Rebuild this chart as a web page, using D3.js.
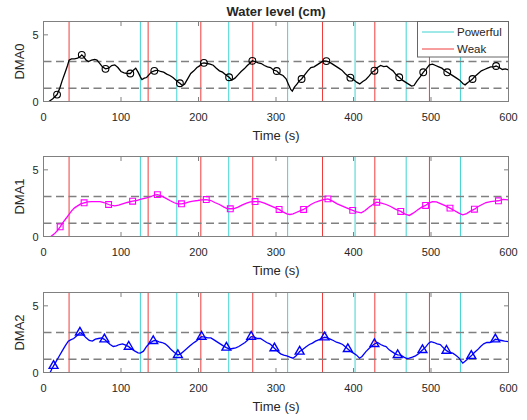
<!DOCTYPE html>
<html>
<head>
<meta charset="utf-8">
<script src="https://cdn.jsdelivr.net/npm/d3@7"></script>
<style>
body { margin: 0; background: #fff; }
svg { display: block; font-family: "Liberation Sans", Arial, Helvetica, sans-serif; }
</style>
</head>
<body>
<svg></svg>
<script>
const width = 527, height = 420;

// pump switching times (s)
const powerfulTimes = [0, 125, 172, 239, 315, 402, 468, 538];
const weakTimes = [33, 135, 203, 270, 360, 427.5, 498];
const thresholds = [1, 3];
const xTicks = [0, 100, 200, 300, 400, 500, 600];
const yTicks = [0, 5];
const panelNames = ['DMA0', 'DMA1', 'DMA2'];

// water level [time, level]
const dma0 = [[7,0],[12,0.2],[17.5,0.52],[21,1.0],[24,1.55],[28,2.2],[31,2.7],[33,3.1],[36,3.2],[40,3.2],[44,3.25],[47,3.35],[49.4,3.5],[52,3.35],[55,3.1],[58,3.0],[62,3.1],[66,3.15],[69,3.1],[72,2.9],[76,2.6],[80,2.45],[84,2.5],[88,2.7],[92,2.75],[96,2.55],[100,2.25],[104,2.15],[108,2.1],[112,2.1],[116,2.35],[119,2.5],[122,2.2],[125,1.85],[127,1.65],[130,1.75],[133,1.8],[136,2.0],[139,2.2],[143,2.3],[147,2.35],[151,2.25],[155,2.2],[159,2.05],[163,1.95],[167,1.8],[171,1.6],[174,1.45],[176,1.37],[179,1.2],[182,1.3],[186,1.7],[190,2.1],[194,2.3],[198,2.55],[201,2.65],[204,2.85],[207,2.9],[211,2.85],[215,2.8],[219,2.72],[223,2.5],[227,2.3],[231,2.2],[235,2.0],[239.5,1.82],[243,1.6],[247,1.75],[251,2.0],[255,2.25],[259,2.45],[263,2.7],[266,2.85],[269.5,3.05],[273,3.0],[277,2.9],[281,2.85],[285,2.7],[289,2.6],[293,2.55],[297,2.35],[301,2.29],[305,2.05],[309,1.95],[313,1.7],[316,1.3],[319,0.9],[321,0.78],[324,1.1],[327,1.3],[330,1.55],[333,1.69],[337,2.0],[341,2.3],[345,2.55],[349,2.6],[353,2.75],[357,2.9],[361,3.05],[365,3.03],[369,2.95],[373,2.8],[377,2.65],[381,2.5],[385,2.35],[389,2.1],[393,1.9],[396,1.79],[400,1.65],[404,1.45],[408,1.32],[412,1.5],[416,1.65],[420,1.9],[424,2.2],[427,2.31],[431,2.55],[435,2.7],[439,2.62],[443,2.65],[447,2.45],[451,2.3],[455,2.0],[459,1.82],[463,1.6],[467,1.45],[471,1.3],[475,1.15],[478,1.2],[482,1.55],[486,1.85],[490,2.19],[494,2.45],[498,2.75],[502,2.8],[506,2.7],[510,2.6],[514,2.5],[518,2.3],[521,2.19],[525,2.05],[529,1.9],[533,1.75],[537,1.6],[541,1.35],[544,1.25],[548,1.45],[551,1.55],[553.6,1.69],[557,1.9],[561,2.1],[565,2.3],[569,2.4],[573,2.5],[577,2.6],[581,2.6],[584,2.66],[588,2.55],[592,2.4],[596,2.45],[600,2.37]];
const dma1 = [[9.5,0],[14,0.2],[18,0.45],[21.5,0.72],[25,1.05],[29,1.35],[32,1.58],[36,1.9],[40,2.15],[44,2.3],[48,2.45],[52.4,2.53],[57,2.6],[62,2.62],[67,2.62],[73,2.62],[78,2.55],[84,2.4],[88,2.33],[92,2.3],[97,2.35],[102,2.45],[108,2.55],[115,2.65],[120,2.7],[126,2.8],[133,2.9],[139,3.0],[143,3.1],[147,3.14],[152,3.05],[157,2.9],[163,2.7],[168,2.55],[173,2.45],[178,2.45],[183,2.5],[188,2.6],[193,2.65],[199,2.7],[204,2.75],[210,2.77],[216,2.7],[221,2.55],[227,2.4],[233,2.2],[237,2.1],[241,2.08],[246,2.1],[251,2.2],[256,2.35],[262,2.5],[267,2.6],[273,2.62],[279,2.62],[285,2.5],[291,2.35],[297,2.2],[304,2.03],[309,1.85],[314,1.7],[318,1.65],[322,1.7],[326,1.8],[331,1.92],[335.6,2.03],[340,2.2],[345,2.4],[350,2.55],[355,2.65],[360,2.75],[367,2.82],[373,2.65],[379,2.45],[385,2.3],[391,2.15],[399,1.96],[404,1.85],[410,1.78],[415,1.95],[420,2.2],[425,2.4],[430,2.57],[436,2.5],[442,2.4],[448,2.25],[454,2.05],[461,1.88],[466,1.7],[472,1.58],[477,1.75],[483,2.0],[488,2.2],[493,2.33],[497,2.5],[502,2.62],[507,2.6],[513,2.45],[519,2.3],[524.5,2.13],[530,1.95],[536,1.75],[541,1.63],[546,1.72],[551,1.9],[556,2.05],[561,2.25],[566,2.4],[571,2.55],[577,2.62],[582,2.65],[587,2.68],[593,2.78],[600,2.75]];
const dma2 = [[8.6,0],[11,0.3],[13,0.5],[16,0.8],[20,1.2],[24,1.6],[28,2.0],[32,2.35],[35,2.45],[39,2.55],[43,2.75],[47,3.0],[51,2.85],[55,2.6],[59,2.4],[63,2.35],[67,2.5],[71,2.55],[75,2.6],[78.6,2.49],[82,2.3],[86,2.1],[90,1.95],[94,2.0],[98,2.1],[102,2.15],[106,2.05],[110,1.94],[114,1.75],[118,1.6],[122,1.48],[125,1.45],[129,1.6],[133,1.95],[137,2.2],[141.6,2.37],[145,2.4],[149,2.3],[153,2.25],[157,2.15],[161,1.95],[165,1.7],[169,1.5],[173.4,1.32],[177,1.4],[181,1.6],[185,1.8],[189,2.0],[193,2.2],[197,2.35],[201,2.55],[204,2.69],[208,2.65],[212,2.6],[216,2.6],[220,2.45],[224,2.3],[228,2.15],[232,2.0],[236,1.87],[240,1.75],[244,1.8],[248,1.85],[252,1.95],[256,2.1],[260,2.25],[264,2.45],[268,2.69],[272,2.65],[276,2.55],[280,2.55],[284,2.4],[288,2.25],[292,2.15],[295,2.0],[298,1.82],[302,1.6],[306,1.4],[310,1.3],[314,1.25],[318,1.15],[322,1.07],[326,1.25],[330.5,1.57],[334,1.7],[338,1.9],[343,2.1],[347,2.2],[351,2.35],[355,2.45],[359,2.55],[362.7,2.64],[366,2.6],[370,2.5],[374,2.4],[378,2.27],[382,2.2],[386,2.1],[389,1.95],[392.7,1.77],[396,1.6],[400,1.45],[404,1.3],[407.8,1.07],[411,1.2],[416,1.57],[420,1.8],[424,2.0],[427,2.14],[431,2.25],[435,2.1],[439,2.0],[442,1.94],[446,1.7],[450,1.55],[454,1.4],[457,1.32],[461,1.3],[465,1.15],[469,1.05],[472,1.07],[476,1.15],[480,1.25],[484,1.4],[489,1.69],[493,1.9],[497,2.2],[500,2.31],[504,2.25],[508,2.15],[512,2.1],[516,1.85],[520,1.64],[524,1.5],[528,1.45],[532,1.3],[536,1.1],[539,0.85],[541,0.7],[544,0.85],[548,1.05],[552,1.25],[556,1.5],[560,1.7],[564,1.95],[568,2.15],[572,2.25],[576,2.25],[580,2.35],[583,2.49],[587,2.45],[591,2.4],[595,2.35],[600,2.31]];

// times that carry a marker
const dma0Marks = [17.5,49.4,80,112,143,176,207,239.5,269.5,301,333,365,396,427,459,490,521,553.6,584];
const dma1Marks = [21.5,52.4,84,115,147,178,210,241,273,304,335.6,367,399,430,461,493,524.5,556,587];
const dma2Marks = [13,47,78.6,110,141.6,173.4,204,236,268,298,330.5,362.7,392.7,427,457,489,520,552,583];

const series = [
  { data: dma0, marks: dma0Marks, color: '#000000', shape: 'circle' },
  { data: dma1, marks: dma1Marks, color: '#ff00ff', shape: 'square' },
  { data: dma2, marks: dma2Marks, color: '#0000ff', shape: 'triangle' }
];

const cyan = '#3fd2d2', red = '#f23c3c';
const axisColor = '#808080', textColor = '#262626';
const panelTop = [21.5, 156.5, 292.5];
const panelH = 80;

const svg = d3.select('svg').attr('width', width).attr('height', height);

const x = d3.scaleLinear().domain([0, 600]).range([43.5, 508.5]);

svg.append('text')
  .attr('x', 276).attr('y', 16)
  .attr('text-anchor', 'middle')
  .style('font-size', '13px').style('font-weight', 'bold')
  .attr('fill', textColor)
  .text('Water level (cm)');

series.forEach((s, i) => {
  const top = panelTop[i], bottom = top + panelH;
  const y = d3.scaleLinear().domain([0, 6]).range([bottom, top]);
  const g = svg.append('g');

  // event lines
  g.selectAll('.pw').data(powerfulTimes).join('line')
    .attr('x1', d => x(d)).attr('x2', d => x(d))
    .attr('y1', top).attr('y2', bottom)
    .attr('stroke', cyan).attr('stroke-width', 1);
  g.selectAll('.wk').data(weakTimes).join('line')
    .attr('x1', d => x(d)).attr('x2', d => x(d))
    .attr('y1', top).attr('y2', bottom)
    .attr('stroke', red).attr('stroke-width', 1);

  // threshold lines
  g.selectAll('.th').data(thresholds).join('line')
    .attr('x1', x(0)).attr('x2', x(600))
    .attr('y1', d => y(d)).attr('y2', d => y(d))
    .attr('stroke', '#808080').attr('stroke-width', 1.5)
    .attr('stroke-dasharray', '8,4.5');

  // level curve
  const line = d3.line().x(d => x(d[0])).y(d => y(d[1]));
  g.append('path').datum(s.data)
    .attr('d', line)
    .attr('fill', 'none')
    .attr('stroke', s.color).attr('stroke-width', 1.3);

  const markPts = s.marks.map(t => s.data.find(d => d[0] === t));
  const sym = s.shape === 'square' ? d3.symbolSquare
    : s.shape === 'triangle' ? d3.symbolTriangle : d3.symbolCircle;
  const size = s.shape === 'square' ? 34 : s.shape === 'triangle' ? 34 : 36;
  g.selectAll('.mk').data(markPts).join('path')
    .attr('d', d3.symbol().type(sym).size(size))
    .attr('transform', d => `translate(${x(d[0])},${y(d[1])})`)
    .attr('fill', 'none')
    .attr('stroke', s.color).attr('stroke-width', s.shape === 'triangle' ? 1.4 : 1.1);

  // box + ticks
  g.append('rect')
    .attr('x', x(0)).attr('y', top)
    .attr('width', x(600) - x(0)).attr('height', panelH)
    .attr('fill', 'none').attr('stroke', axisColor).attr('stroke-width', 1);

  xTicks.forEach(t => {
    g.append('line').attr('x1', x(t)).attr('x2', x(t)).attr('y1', bottom).attr('y2', bottom - 4.5)
      .attr('stroke', axisColor);
    g.append('line').attr('x1', x(t)).attr('x2', x(t)).attr('y1', top).attr('y2', top + 4.5)
      .attr('stroke', axisColor);
    g.append('text').attr('x', x(t)).attr('y', bottom + 19)
      .attr('text-anchor', 'middle').style('font-size', '11px')
      .attr('fill', textColor).text(t);
  });
  yTicks.forEach(t => {
    g.append('line').attr('x1', x(0)).attr('x2', x(0) + 4.5).attr('y1', y(t)).attr('y2', y(t))
      .attr('stroke', axisColor);
    g.append('line').attr('x1', x(600)).attr('x2', x(600) - 4.5).attr('y1', y(t)).attr('y2', y(t))
      .attr('stroke', axisColor);
    g.append('text').attr('x', 38.5).attr('y', y(t) + 4)
      .attr('text-anchor', 'end').style('font-size', '11px')
      .attr('fill', textColor).text(t);
  });

  g.append('text')
    .attr('x', 276).attr('y', bottom + 38.5)
    .attr('text-anchor', 'middle').style('font-size', '13px')
    .attr('fill', textColor).text('Time (s)');
  g.append('text')
    .attr('transform', `translate(24,${(top + bottom) / 2}) rotate(-90)`)
    .attr('text-anchor', 'middle').style('font-size', '13px')
    .attr('fill', textColor).text(panelNames[i]);
});

// legend (top panel only)
const lg = svg.append('g');
lg.append('rect')
  .attr('x', 417.5).attr('y', 21.5).attr('width', 91).attr('height', 35.5)
  .attr('fill', '#fff').attr('stroke', '#666').attr('stroke-width', 1);
[['Powerful', cyan, 32], ['Weak', red, 49]].forEach(([label, c, ly]) => {
  lg.append('line').attr('x1', 422).attr('x2', 454).attr('y1', ly).attr('y2', ly)
    .attr('stroke', c).attr('stroke-width', 1);
  lg.append('text').attr('x', 457).attr('y', ly + 4)
    .style('font-size', '11.5px').attr('fill', textColor).text(label);
});
</script>
</body>
</html>
